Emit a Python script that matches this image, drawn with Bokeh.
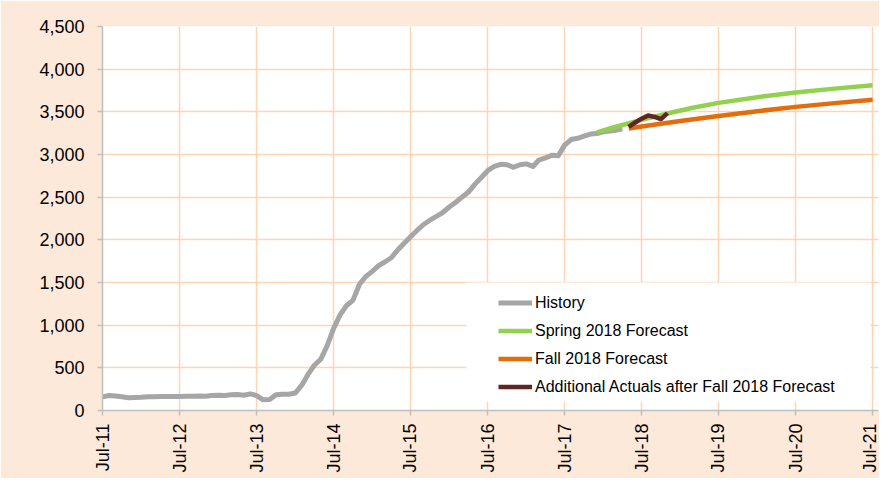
import math
from datetime import datetime
import pandas as pd
from bokeh.plotting import figure
from bokeh.models import (FixedTicker, DatetimeTickFormatter, NumeralTickFormatter,
                          BoxAnnotation, Range1d)
from bokeh.embed import file_html
from bokeh.resources import INLINE

# ---------------- data ----------------
history_start = "2011-07-01"
history_values = [
    160, 175, 170, 160, 150, 152, 155, 162, 160, 163, 165, 165,
    165, 168, 166, 170, 167, 175, 180, 176, 185, 188, 178, 195,
    175, 125, 130, 185, 190, 190, 205, 300, 420, 530, 600, 760,
    960, 1120, 1230, 1290, 1480, 1570, 1630, 1700, 1740, 1790, 1880, 1960,
    2035, 2110, 2180, 2230, 2275, 2320, 2385, 2440, 2500, 2560, 2650, 2730,
    2810, 2860, 2885, 2880, 2850, 2880, 2890, 2860, 2935, 2960, 2990, 2985,
    3110, 3175, 3190, 3215, 3240, 3245, 3265, 3275, 3285, 3300,
]

spring_dates = ["2017-12-01", "2018-03-01", "2018-07-01", "2018-11-01", "2019-03-01",
                "2019-07-01", "2020-01-01", "2020-07-01", "2021-01-01", "2021-07-01"]
spring_values = [3260, 3325, 3405, 3480, 3548, 3605, 3672, 3726, 3772, 3812]

fall_dates = ["2018-05-01", "2018-07-01", "2019-01-01", "2019-07-01",
              "2020-01-01", "2020-07-01", "2021-01-01", "2021-07-01"]
fall_values = [3305, 3328, 3392, 3452, 3508, 3558, 3602, 3642]

actual_dates = ["2018-05-01", "2018-06-01", "2018-07-01", "2018-08-01",
                "2018-09-01", "2018-10-01", "2018-11-01"]
actual_values = [3325, 3375, 3420, 3458, 3440, 3415, 3485]

x_tick_dates = ["2011-07-01", "2012-07-01", "2013-07-01", "2014-07-01", "2015-07-01",
                "2016-07-01", "2017-07-01", "2018-07-01", "2019-07-01", "2020-07-01",
                "2021-07-01"]
y_ticks = [0, 500, 1000, 1500, 2000, 2500, 3000, 3500, 4000, 4500]

series_names = ["History", "Spring 2018 Forecast", "Fall 2018 Forecast",
                "Additional Actuals after Fall 2018 Forecast"]

# ---------------- figure ----------------
history_dates = pd.date_range(history_start, periods=len(history_values), freq="MS")
to_ts = lambda lst: [pd.Timestamp(d) for d in lst]

FONT = "Liberation Sans"
GRID = "#FCD5B4"
AXIS = "#BFBFBF"

p = figure(width=879, height=478, x_axis_type="datetime",
           x_range=Range1d(datetime(2011, 7, 1), datetime(2021, 7, 29)),
           y_range=Range1d(0, 4500),
           output_backend="svg", toolbar_location=None,
           min_border_left=102, min_border_right=1, min_border_top=26, min_border_bottom=68)

p.background_fill_color = "white"
p.border_fill_color = "#FDE9D9"
p.outline_line_color = None

tick_ms = [pd.Timestamp(d).value // 10**6 for d in x_tick_dates]
p.xaxis.ticker = FixedTicker(ticks=tick_ms, minor_ticks=[])
p.xaxis.formatter = DatetimeTickFormatter(
    milliseconds="%b-%y", seconds="%b-%y", minsec="%b-%y", minutes="%b-%y",
    hourmin="%b-%y", hours="%b-%y", days="%b-%y", months="%b-%y", years="%b-%y")
p.xaxis.major_label_orientation = math.pi / 2
p.xaxis.major_label_standoff = 8

p.yaxis.ticker = FixedTicker(ticks=y_ticks, minor_ticks=[])
p.yaxis.formatter = NumeralTickFormatter(format="0,0")
p.yaxis.major_label_standoff = 13

for ax in (p.xaxis, p.yaxis):
    ax.axis_line_color = AXIS
    ax.axis_line_width = 1.5
    ax.major_tick_line_color = AXIS
    ax.major_tick_line_width = 1.5
    ax.major_tick_out = 5
    ax.major_tick_in = 0
    ax.minor_tick_out = 0
    ax.minor_tick_in = 0
    ax.major_label_text_font = FONT
    ax.major_label_text_font_size = "18px"
    ax.major_label_text_color = "black"

for g in (p.xgrid, p.ygrid):
    g.grid_line_color = GRID
    g.grid_line_width = 1.5

# white legend backdrop (covers gridlines like the original legend box)
backdrop = BoxAnnotation(left=466, right=870, top=282, bottom=401,
                         left_units="canvas", right_units="canvas",
                         top_units="canvas", bottom_units="canvas",
                         fill_color="white", fill_alpha=1.0, line_color=None,
                         level="underlay")
p.add_layout(backdrop)

# outer chart border (left and top edges visible in the original)
chart_border = BoxAnnotation(left=7, right=900, top=2, bottom=600,
                             left_units="canvas", right_units="canvas",
                             top_units="canvas", bottom_units="canvas",
                             fill_alpha=0, line_color="#404040", line_width=1.5,
                             level="overlay")
p.add_layout(chart_border)

p.line(history_dates, history_values, line_color="#A6A6A6", line_width=5,
       line_join="round", legend_label=series_names[0])
p.line(to_ts(spring_dates), spring_values, line_color="#92D050", line_width=4.5,
       line_join="round", legend_label=series_names[1])
p.line(to_ts(fall_dates), fall_values, line_color="#E46C0A", line_width=4.5,
       line_join="round", legend_label=series_names[2])
p.line(to_ts(actual_dates), actual_values, line_color="#632523", line_width=4.5,
       line_join="round", legend_label=series_names[3])

lg = p.legend[0]
lg.location = (396, 11)
lg.padding = 6
lg.spacing = 3
lg.glyph_width = 34
lg.glyph_height = 25
lg.label_height = 25
lg.label_standoff = 3
lg.label_text_font = FONT
lg.label_text_font_size = "16px"
lg.label_text_color = "black"
lg.background_fill_alpha = 0
lg.border_line_color = None

open("out.html", "w").write(file_html(p, INLINE))
